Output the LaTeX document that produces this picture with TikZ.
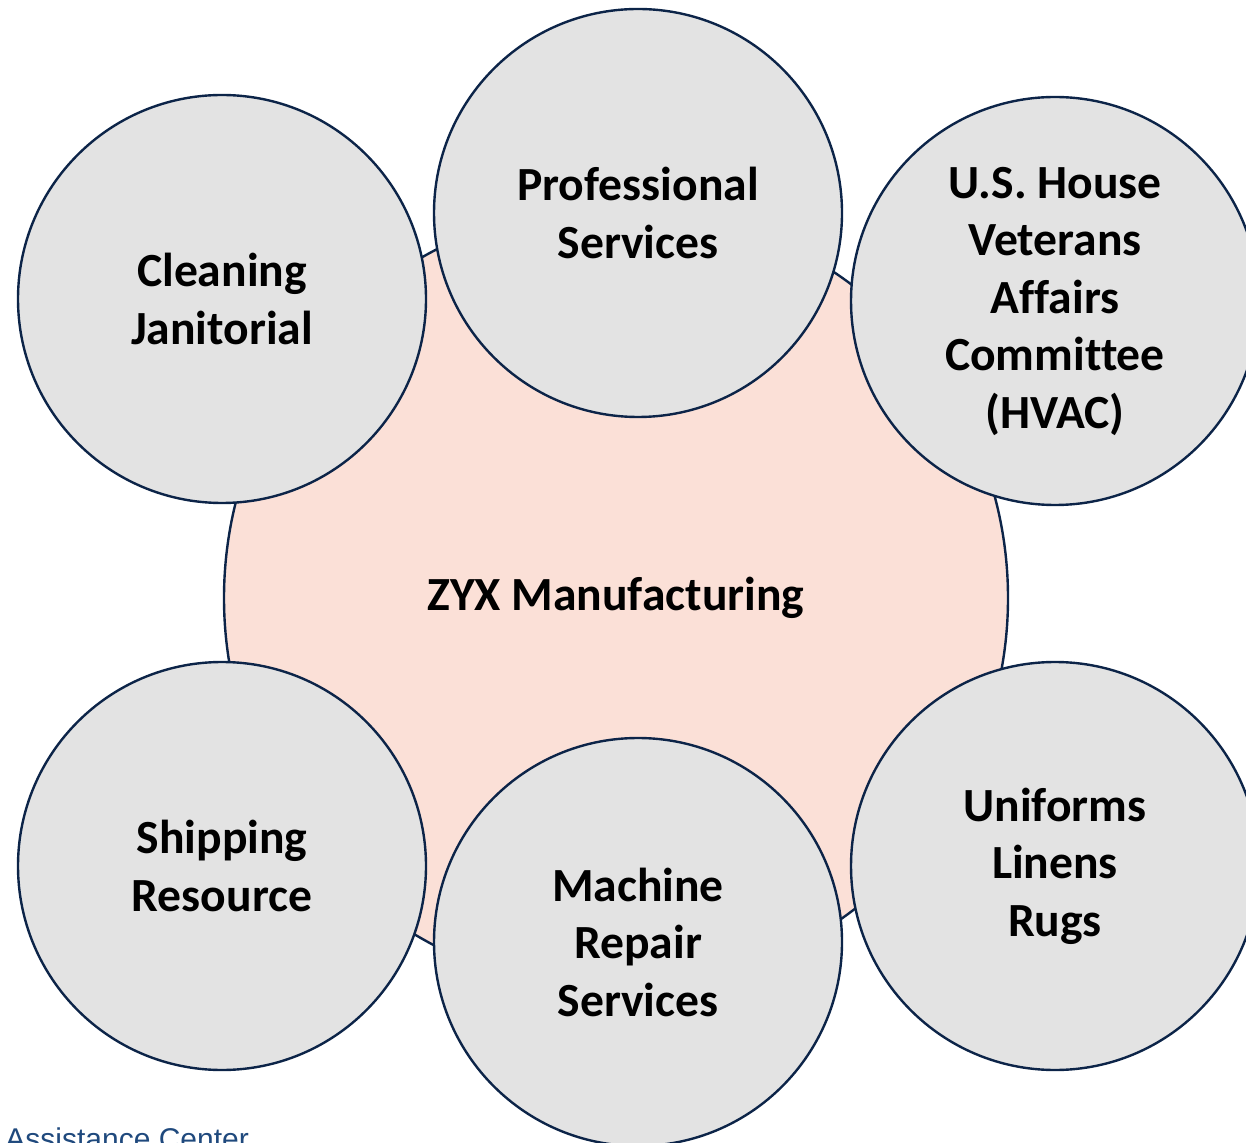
\documentclass[tikz,border=0pt]{standalone}
\usepackage{fontspec}
\setmainfont[Ligatures=NoCommon]{Carlito}
\newfontfamily\footfont{Liberation Sans}
\usepackage{tikz}

\definecolor{ringline}{RGB}{12,36,72}
\definecolor{satfill}{RGB}{227,227,227}
\definecolor{hubfill}{RGB}{251,224,215}
\definecolor{footblue}{RGB}{31,73,125}

\begin{document}
\begin{tikzpicture}[x=0.5pt, y=-0.5pt,
  hub/.style = {draw=ringline, line width=1.2pt, fill=hubfill, circle, minimum size=392pt, inner sep=0pt, font=\fontsize{23.8}{28.75}\selectfont\bfseries},
  main/.style = {draw=ringline, line width=1.2pt, fill=satfill, circle, minimum size=204pt, inner sep=0pt, align=center, font=\fontsize{23.8}{28.75}\selectfont\bfseries}]
\useasboundingbox (0,0) rectangle (1246,1143);
\clip (0,0) rectangle (1246,1143);
\node[hub] (zyx) at (616,598) {ZYX Manufacturing};
\node[main] (clean) at (222,299) {Cleaning\\Janitorial};
\node[main] (prof) at (638,213) {Professional\\Services};
\node[main] (hvac) at (1055,301) {U.S. House\\Veterans\\Affairs\\Committee\\(HVAC)};
\node[main] (ship) at (222,866) {Shipping\\Resource};
\node[main] (mach) at (638,942) {Machine\\Repair\\Services};
\node[main] (unif) at (1055,866) {Uniforms\\Linens\\Rugs};
\node[anchor=base west, inner sep=0pt, text=footblue, font=\footfont\fontsize{15}{18}\selectfont] (foot) at (5,1149) {Assistance Center};
\end{tikzpicture}
\end{document}
